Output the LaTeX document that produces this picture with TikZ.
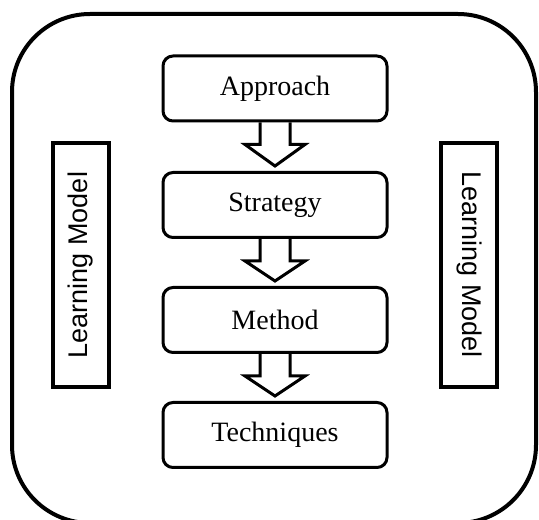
\documentclass[tikz,border=0pt]{standalone}
\usepackage{fontspec}
\setmainfont{Liberation Serif}
\newfontfamily\lmsans{Liberation Sans}
\usetikzlibrary{calc}
\tikzset{
  stagebox/.style={draw, line width=3pt, rounded corners=10pt, minimum width=224pt, minimum height=65pt, inner sep=0pt, font=\fontsize{28}{32}\selectfont},
  sidebox/.style={draw, line width=3.5pt, minimum width=244pt, minimum height=56pt, inner sep=0pt, font=\lmsans\fontsize{27}{30}\selectfont},
  hollow/.style={draw, line width=3pt, line join=miter},
  frame/.style={draw, line width=4pt, rounded corners=78pt}
}
\newcommand\hollowarrow[2]{%
  \path[hollow] ($(#1.south)+(-15pt,0)$) -- ++(0,-22pt) -- ++(-15pt,0)
     -- ($(#2.north)+(0,5pt)$) -- ($(#1.south)+(30pt,-22pt)$) -- ++(-15pt,0)
     -- ($(#1.south)+(15pt,0)$);}
\begin{document}
\begin{tikzpicture}[x=1pt,y=1pt]
\useasboundingbox (0,0) rectangle (539,520);
\path[frame] (12,-3) rectangle (536,506);
\node[stagebox] (app) at (275,431.5) {Approach};
\node[stagebox] (str) at (275,315) {Strategy};
\node[stagebox] (met) at (275,200) {Method};
\node[stagebox] (tec) at (275,85) {Techniques};
\hollowarrow{app}{str}
\hollowarrow{str}{met}
\hollowarrow{met}{tec}
\node[sidebox, rotate=90] (lml) at (81,255) {Learning Model};
\node[sidebox, rotate=-90] (lmr) at (469,255) {Learning Model};
\end{tikzpicture}
\end{document}
